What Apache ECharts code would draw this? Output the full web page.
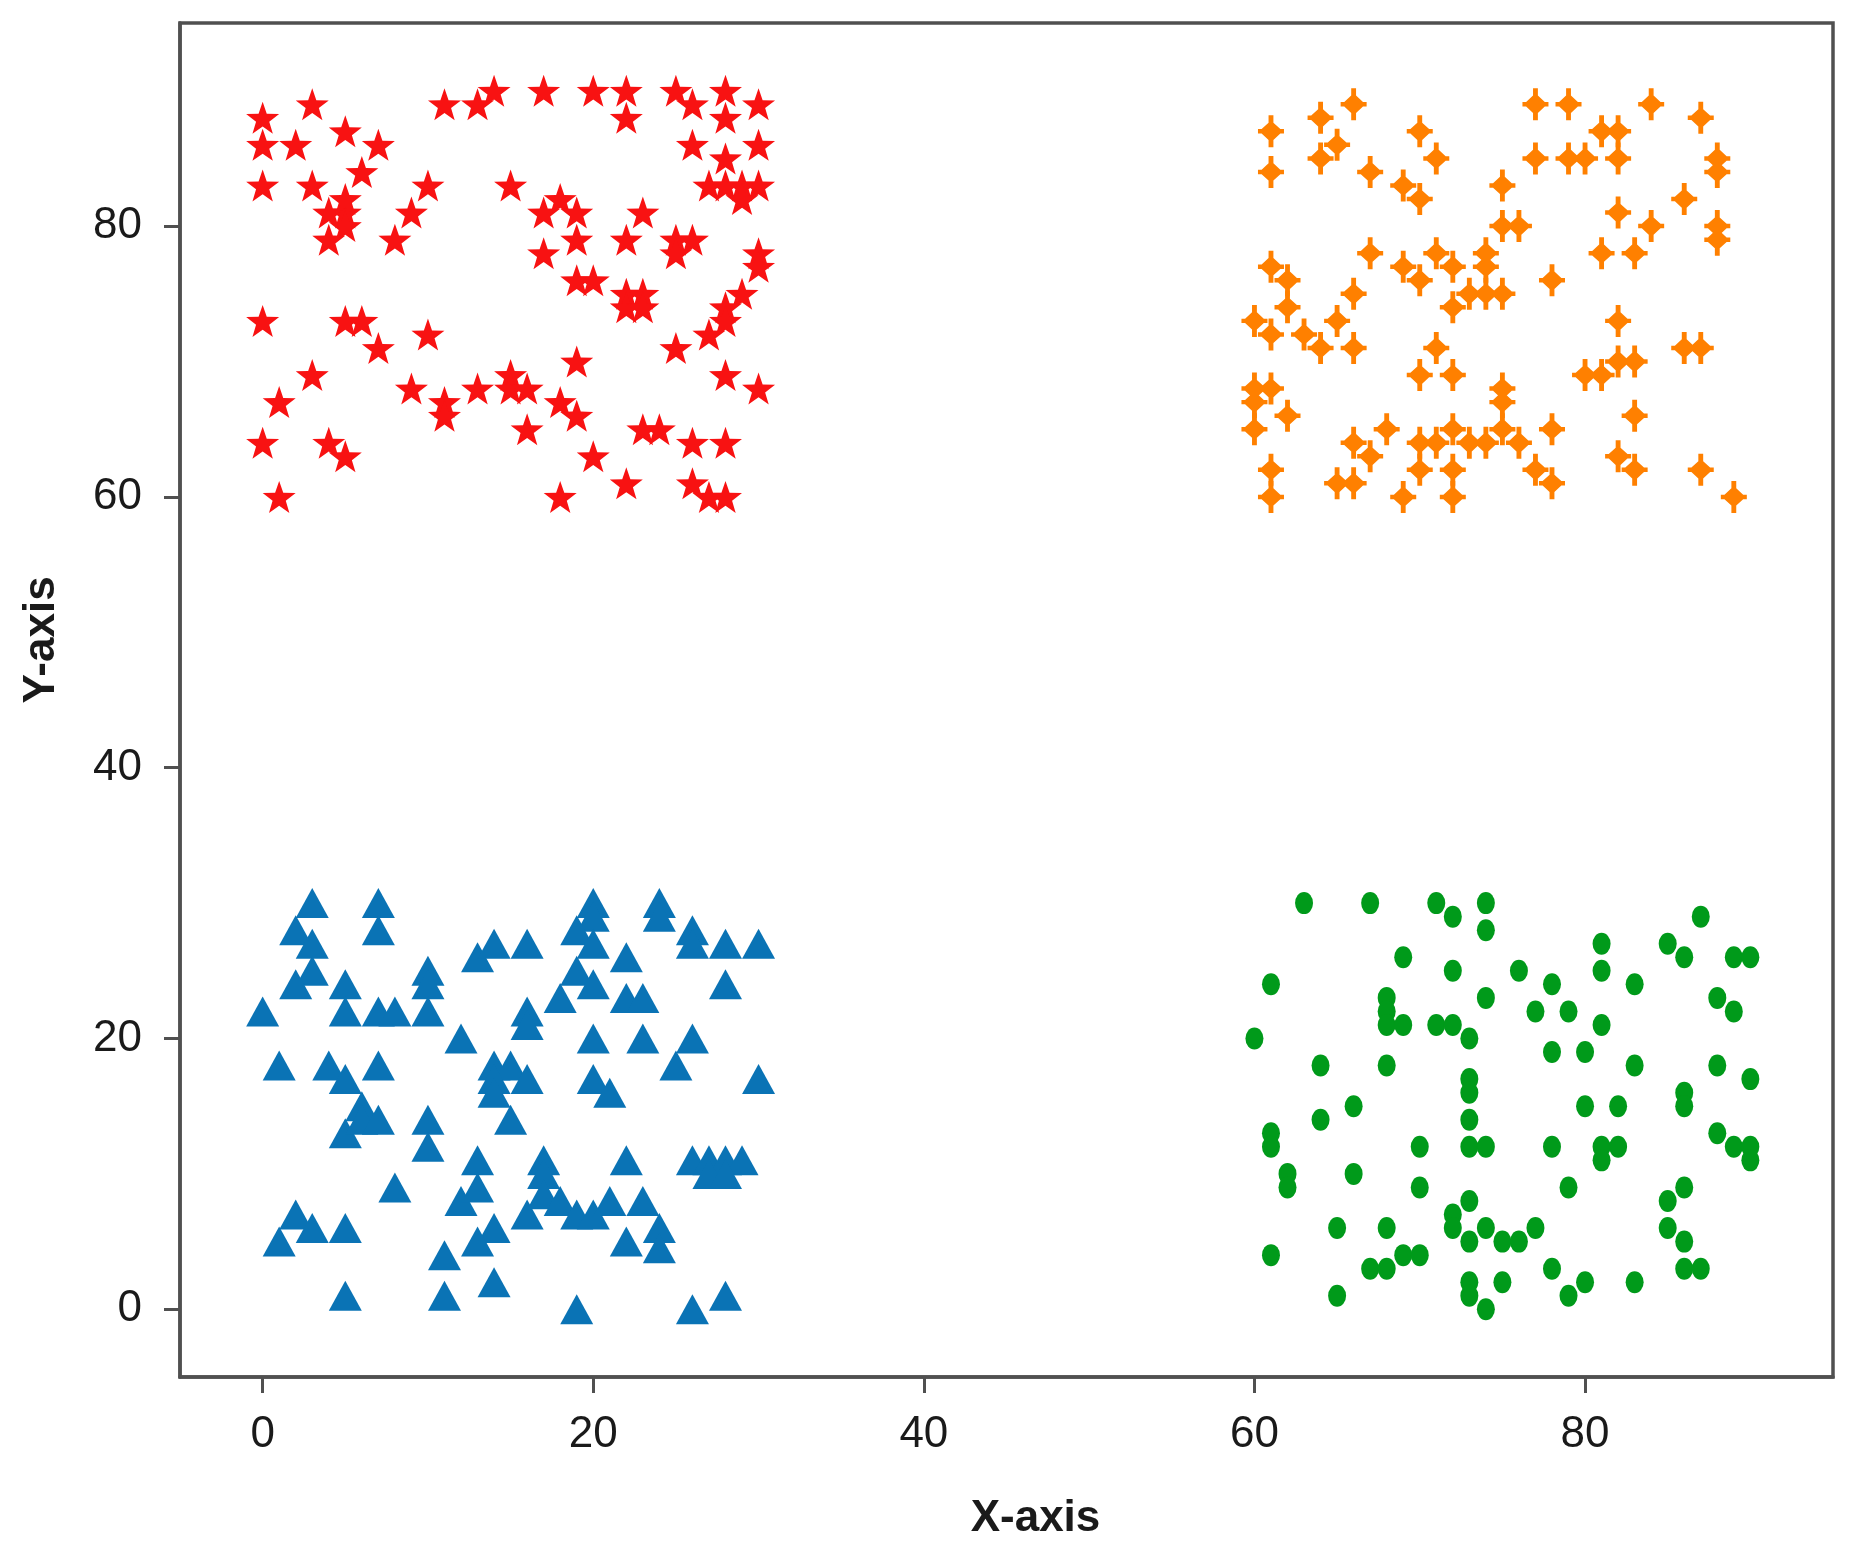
<!DOCTYPE html>
<html>
<head>
<meta charset="utf-8">
<script src="https://cdn.jsdelivr.net/npm/echarts@6/dist/echarts.min.js"></script>
<style>
html,body{margin:0;padding:0;background:#fff;}
#chart{width:1857px;height:1560px;}
</style>
</head>
<body>
<div id="chart"></div>
<script>
// ---- data ----
const xTicks = [0, 20, 40, 60, 80];
const yTicks = [0, 20, 40, 60, 80];

const redStars = [
  [0,88],[0,86],[0,83],[3,89],[2,86],[5,87],[7,86],[6,84],[3,83],[5,81],[5,80],[4,79],[4,81],[5,82],
  [8,79],[9,81],[10,83],[11,89],[13,89],[14,90],[17,90],[20,90],[22,90],[22,88],[25,90],[26,89],
  [28,90],[28,88],[30,89],[26,86],[30,86],[28,85],[27,83],[28,83],[29,83],[30,83],[29,82],
  [15,83],[17,81],[18,82],[19,81],[17,78],[19,79],[23,81],[22,79],[25,79],[25,78],[26,79],
  [30,78],[30,77],[19,76],[20,76],[22,75],[23,75],[22,74],[23,74],[29,75],[28,74],[27,72],[28,73],
  [0,73],[5,73],[6,73],[7,71],[10,72],[25,71],[28,69],[30,68],[3,69],[1,67],[9,68],[11,67],[11,66],
  [13,68],[15,69],[15,68],[16,68],[19,70],[18,67],[19,66],[16,65],[20,63],[23,65],[24,65],
  [26,64],[28,64],[0,64],[4,64],[5,63],[1,60],[18,60],[22,61],[26,61],[27,60],[28,60]
];

const orangePluses = [
  [61,87],[61,84],[64,88],[66,89],[64,85],[65,86],[67,84],[70,87],[71,85],[69,83],[70,82],
  [77,89],[79,89],[84,89],[81,87],[82,87],[87,88],[77,85],[79,85],[80,85],[82,85],[88,85],[88,84],
  [75,83],[82,81],[84,80],[86,82],[88,80],[88,79],[75,80],[76,80],[81,78],[83,78],[78,76],
  [61,77],[62,76],[62,74],[60,73],[61,72],[63,72],[64,71],[65,73],[66,71],[66,75],[67,78],
  [69,77],[70,76],[71,78],[72,77],[74,78],[74,77],[73,75],[72,74],[74,75],[75,75],[82,73],
  [71,71],[70,69],[72,69],[80,69],[81,69],[83,70],[82,70],[86,71],[87,71],[60,68],[61,68],[60,67],
  [60,65],[62,66],[75,68],[75,67],[83,66],[66,64],[67,63],[68,65],[70,64],[71,64],[72,65],
  [73,64],[74,64],[75,65],[76,64],[78,65],[61,62],[61,60],[65,61],[66,61],[69,60],[70,62],
  [72,62],[72,60],[77,62],[78,61],[82,63],[83,62],[87,62],[89,60]
];

const blueTriangles = [
  [3,30],[7,30],[7,28],[2,28],[3,27],[3,25],[2,24],[5,24],[5,22],[0,22],[7,22],[8,22],[10,25],
  [10,24],[10,22],[13,26],[14,27],[16,27],[20,30],[20,29],[19,28],[20,27],[24,30],[24,29],
  [26,28],[26,27],[28,27],[30,27],[22,26],[19,25],[20,24],[18,23],[22,23],[23,23],[28,24],
  [16,22],[16,21],[12,20],[20,20],[23,20],[26,20],[25,18],[1,18],[4,18],[5,17],[7,18],[14,18],
  [15,18],[16,17],[14,17],[20,17],[30,17],[6,15],[5,13],[6,14],[7,14],[14,16],[15,14],[21,16],
  [10,14],[10,12],[13,11],[17,11],[17,10],[22,11],[26,11],[27,11],[28,11],[29,11],[27,10],
  [28,10],[8,9],[12,8],[13,9],[16,7],[17,8.5],[18,8],[19,7],[20,7],[21,8],[23,8],[2,7],[1,5],
  [3,6],[5,6],[14,6],[13,5],[11,4],[22,5],[24,6],[24,4.5],[5,1],[11,1],[14,2],[19,0],[26,0],[28,1]
];

const greenCircles = [
  [63,30],[67,30],[71,30],[72,29],[74,30],[74,28],[87,29],[81,27],[81,25],[85,27],[86,26],
  [89,26],[90,26],[69,26],[61,24],[72,25],[76,25],[78,24],[83,24],[68,23],[68,22],[68,21],
  [69,21],[71,21],[72,21],[73,20],[74,23],[77,22],[79,22],[81,21],[88,23],[89,22],[60,20],
  [78,19],[80,19],[64,18],[68,18],[83,18],[88,18],[90,17],[73,17],[73,16],[86,16],[86,15],
  [66,15],[64,14],[82,15],[73,14],[80,15],[88,13],[61,13],[61,12],[70,12],[73,12],[74,12],
  [78,12],[81,12],[82,12],[81,11],[89,12],[90,12],[90,11],[62,10],[62,9],[66,10],[70,9],[79,9],
  [86,9],[85,8],[73,8],[72,7],[72,6],[74,6],[65,6],[68,6],[77,6],[76,5],[75,5],[73,5],[85,6],
  [86,5],[61,4],[69,4],[70,4],[67,3],[68,3],[78,3],[86,3],[87,3],[73,2],[73,1],[74,0],[75,2],
  [65,1],[79,1],[80,2],[83,2]
];

// ---- marker shapes ----
const starPath = 'path://M0,-10L2.35,-3.24L9.51,-3.09L3.8,1.24L5.88,8.09L0,4L-5.88,8.09L-3.8,1.24L-9.51,-3.09L-2.35,-3.24Z';
const plusPath = 'path://M-1.4,-10L1.4,-10L1.4,-5.4L5.4,-1.4L7.5,-1.4L7.5,1.4L5.4,1.4L1.4,5.4L1.4,10L-1.4,10L-1.4,5.4L-5.4,1.4L-7.5,1.4L-7.5,-1.4L-5.4,-1.4L-1.4,-5.4Z';

const axisColor = '#505050';
const labelStyle = { fontFamily: 'Liberation Sans', fontSize: 44, color: '#1a1a1a' };

const chart = echarts.init(document.getElementById('chart'), null, { renderer: 'canvas' });
chart.setOption({
  backgroundColor: '#ffffff',
  animation: false,
  grid: {
    left: 180, right: 24, top: 23, bottom: 183,
    show: true, borderColor: axisColor, borderWidth: 3.5, backgroundColor: 'transparent'
  },
  xAxis: {
    type: 'value', min: -5, max: 95,
    name: 'X-axis', nameLocation: 'middle', nameGap: 120,
    nameTextStyle: { fontFamily: 'Liberation Sans', fontWeight: 'bold', fontSize: 44, color: '#1a1a1a', padding: [0, 0, 0, 58] },
    axisLine: { show: true, onZero: false, lineStyle: { color: axisColor, width: 3.5 } },
    axisTick: { show: true, inside: false, length: 16, lineStyle: { color: axisColor, width: 3 }, customValues: xTicks },
    axisLabel: Object.assign({ margin: 36, customValues: xTicks }, labelStyle),
    splitLine: { show: false }
  },
  yAxis: {
    type: 'value', min: -5, max: 95,
    name: 'Y-axis', nameLocation: 'middle', nameGap: 116, nameRotate: 90,
    nameTextStyle: { fontFamily: 'Liberation Sans', fontWeight: 'bold', fontSize: 44, color: '#1a1a1a', padding: [0, 0, 0, 120] },
    axisLine: { show: true, onZero: false, lineStyle: { color: axisColor, width: 3.5 } },
    axisTick: { show: true, inside: false, length: 16, lineStyle: { color: axisColor, width: 3 }, customValues: yTicks },
    axisLabel: Object.assign({ margin: 38, customValues: yTicks }, labelStyle),
    splitLine: { show: false }
  },
  series: [
    { name: 'A', type: 'scatter', data: redStars, symbol: starPath, symbolSize: [33, 32],
      itemStyle: { color: '#f81212', opacity: 1 } },
    { name: 'B', type: 'scatter', data: orangePluses, symbol: plusPath, symbolSize: [26, 32],
      itemStyle: { color: '#ff8000', opacity: 1 } },
    { name: 'C', type: 'scatter', data: blueTriangles, symbol: 'triangle', symbolSize: [33, 30],
      itemStyle: { color: '#0a73b5', opacity: 1 } },
    { name: 'D', type: 'scatter', data: greenCircles, symbol: 'circle', symbolSize: [18, 22],
      itemStyle: { color: '#009a1a', opacity: 1 } }
  ]
});
</script>
</body>
</html>
